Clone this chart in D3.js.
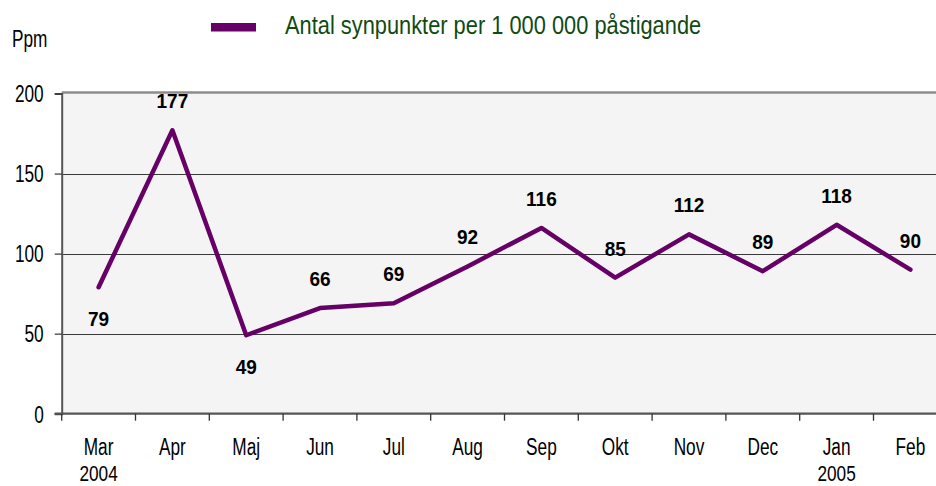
<!DOCTYPE html>
<html>
<head>
<meta charset="utf-8">
<script src="https://cdn.jsdelivr.net/npm/d3@7"></script>
<style>
  body { margin: 0; background: #fff; }
  svg { display: block; font-family: "Liberation Sans", Arial, sans-serif; }
</style>
</head>
<body>
<div id="chart"></div>
<script>
// chart data
var months = ["Mar", "Apr", "Maj", "Jun", "Jul", "Aug", "Sep", "Okt", "Nov", "Dec", "Jan", "Feb"];
var years = ["2004", "", "", "", "", "", "", "", "", "", "2005", ""];
var values = [79, 177, 49, 66, 69, 92, 116, 85, 112, 89, 118, 90];
var labelBelow = [true, false, true, false, false, false, false, false, false, false, false, false];
var yTicks = [0, 50, 100, 150, 200];
var seriesName = "Antal synpunkter per 1 000 000 påstigande";

var W = 936, H = 486;
var plotLeft = 61.7, plotTop = 93.5, plotBottom = 413.7;
var bandW = 73.8;
var lineColor = "#660066";
var textScale = "scale(0.82,1.1)";

var svg = d3.select("#chart").append("svg")
    .attr("width", W)
    .attr("height", H);

var x = d3.scaleBand()
    .domain(months)
    .range([plotLeft, plotLeft + bandW * months.length])
    .padding(0);

var y = d3.scaleLinear()
    .domain([0, 200])
    .range([plotBottom, plotTop]);

// plot background
svg.append("rect")
    .attr("x", plotLeft)
    .attr("y", y(200) - 1.5)
    .attr("width", bandW * months.length)
    .attr("height", plotBottom - y(200) + 1.5)
    .attr("fill", "#f4f4f4");

// gridlines
svg.append("g")
  .selectAll("line")
  .data(yTicks.filter(function (d) { return d > 0 && d < 200; }))
  .enter()
  .append("line")
    .attr("x1", plotLeft)
    .attr("x2", plotLeft + bandW * months.length)
    .attr("y1", function (d) { return Math.round(y(d)) + 0.5; })
    .attr("y2", function (d) { return Math.round(y(d)) + 0.5; })
    .attr("stroke", "#3a3a3a")
    .attr("stroke-width", 1);

// top border
svg.append("line")
    .attr("x1", plotLeft).attr("x2", W)
    .attr("y1", y(200) - 1).attr("y2", y(200) - 1)
    .attr("stroke", "#8c8c8c").attr("stroke-width", 2.5);

// y axis
var yAxis = d3.axisLeft(y)
    .tickValues(yTicks)
    .tickSize(7)
    .tickPadding(11)
    .tickFormat(d3.format("d"));

var yg = svg.append("g")
    .attr("transform", "translate(" + plotLeft + ",0)")
    .call(yAxis);
yg.select(".domain").attr("stroke", "#555").attr("stroke-width", 2);
yg.selectAll(".tick line").attr("stroke", "#333").attr("stroke-width", 1.2);
yg.selectAll(".tick text").remove();
yg.selectAll(".tick").append("text")
    .attr("font-size", 21)
    .attr("fill", "#000")
    .attr("font-family", "Liberation Sans, Arial, sans-serif")
    .attr("text-anchor", "end")
    .attr("transform", "translate(-18,0) " + textScale)
    .attr("dy", "0.36em")
    .text(function (d) { return d; });

// x axis line
svg.append("line")
    .attr("x1", plotLeft - 7).attr("x2", W)
    .attr("y1", plotBottom).attr("y2", plotBottom)
    .attr("stroke", "#555").attr("stroke-width", 2.2);

// x ticks at band boundaries
svg.append("g")
  .selectAll("line")
  .data(d3.range(months.length + 1))
  .enter()
  .append("line")
    .attr("x1", function (i) { return plotLeft + i * bandW; })
    .attr("x2", function (i) { return plotLeft + i * bandW; })
    .attr("y1", plotBottom)
    .attr("y2", plotBottom + 7)
    .attr("stroke", "#333")
    .attr("stroke-width", 1.3);

// x labels
var xl = svg.append("g");
xl.selectAll("text.month")
  .data(months)
  .enter()
  .append("text")
    .attr("class", "month")
    .attr("transform", function (d) {
        return "translate(" + (x(d) + x.bandwidth() / 2) + ",455) " + textScale;
    })
    .attr("text-anchor", "middle")
    .attr("font-size", 21)
    .text(function (d) { return d; });

xl.selectAll("text.year")
  .data(months)
  .enter()
  .append("text")
    .attr("class", "year")
    .attr("transform", function (d) {
        return "translate(" + (x(d) + x.bandwidth() / 2) + ",481) scale(0.82,1.06)";
    })
    .attr("text-anchor", "middle")
    .attr("font-size", 21)
    .text(function (d, i) { return years[i]; });

// y axis title
svg.append("text")
    .attr("transform", "translate(12,47) " + textScale)
    .attr("font-size", 21)
    .text("Ppm");

// the line
var line = d3.line()
    .x(function (d, i) { return x(months[i]) + x.bandwidth() / 2; })
    .y(function (d) { return y(d); });

svg.append("path")
    .datum(values)
    .attr("d", line)
    .attr("fill", "none")
    .attr("stroke", lineColor)
    .attr("stroke-width", 4.5)
    .attr("stroke-linejoin", "round")
    .attr("stroke-linecap", "round");

// data labels
svg.append("g")
  .selectAll("text")
  .data(values)
  .enter()
  .append("text")
    .attr("transform", function (d, i) {
        var px = x(months[i]) + x.bandwidth() / 2;
        var py = labelBelow[i] ? y(d) + 39 : y(d) - 22;
        return "translate(" + px + "," + py + ") scale(0.95,1.04)";
    })
    .attr("text-anchor", "middle")
    .attr("font-size", 20)
    .attr("font-weight", "bold")
    .text(function (d) { return d; });

// legend
svg.append("rect")
    .attr("x", 211)
    .attr("y", 23)
    .attr("width", 45)
    .attr("height", 8.5)
    .attr("fill", lineColor);

svg.append("text")
    .attr("transform", "translate(285,34) scale(0.91,1.05)")
    .attr("font-size", 24)
    .attr("fill", "#0f4a12")
    .text(seriesName);
</script>
</body>
</html>
